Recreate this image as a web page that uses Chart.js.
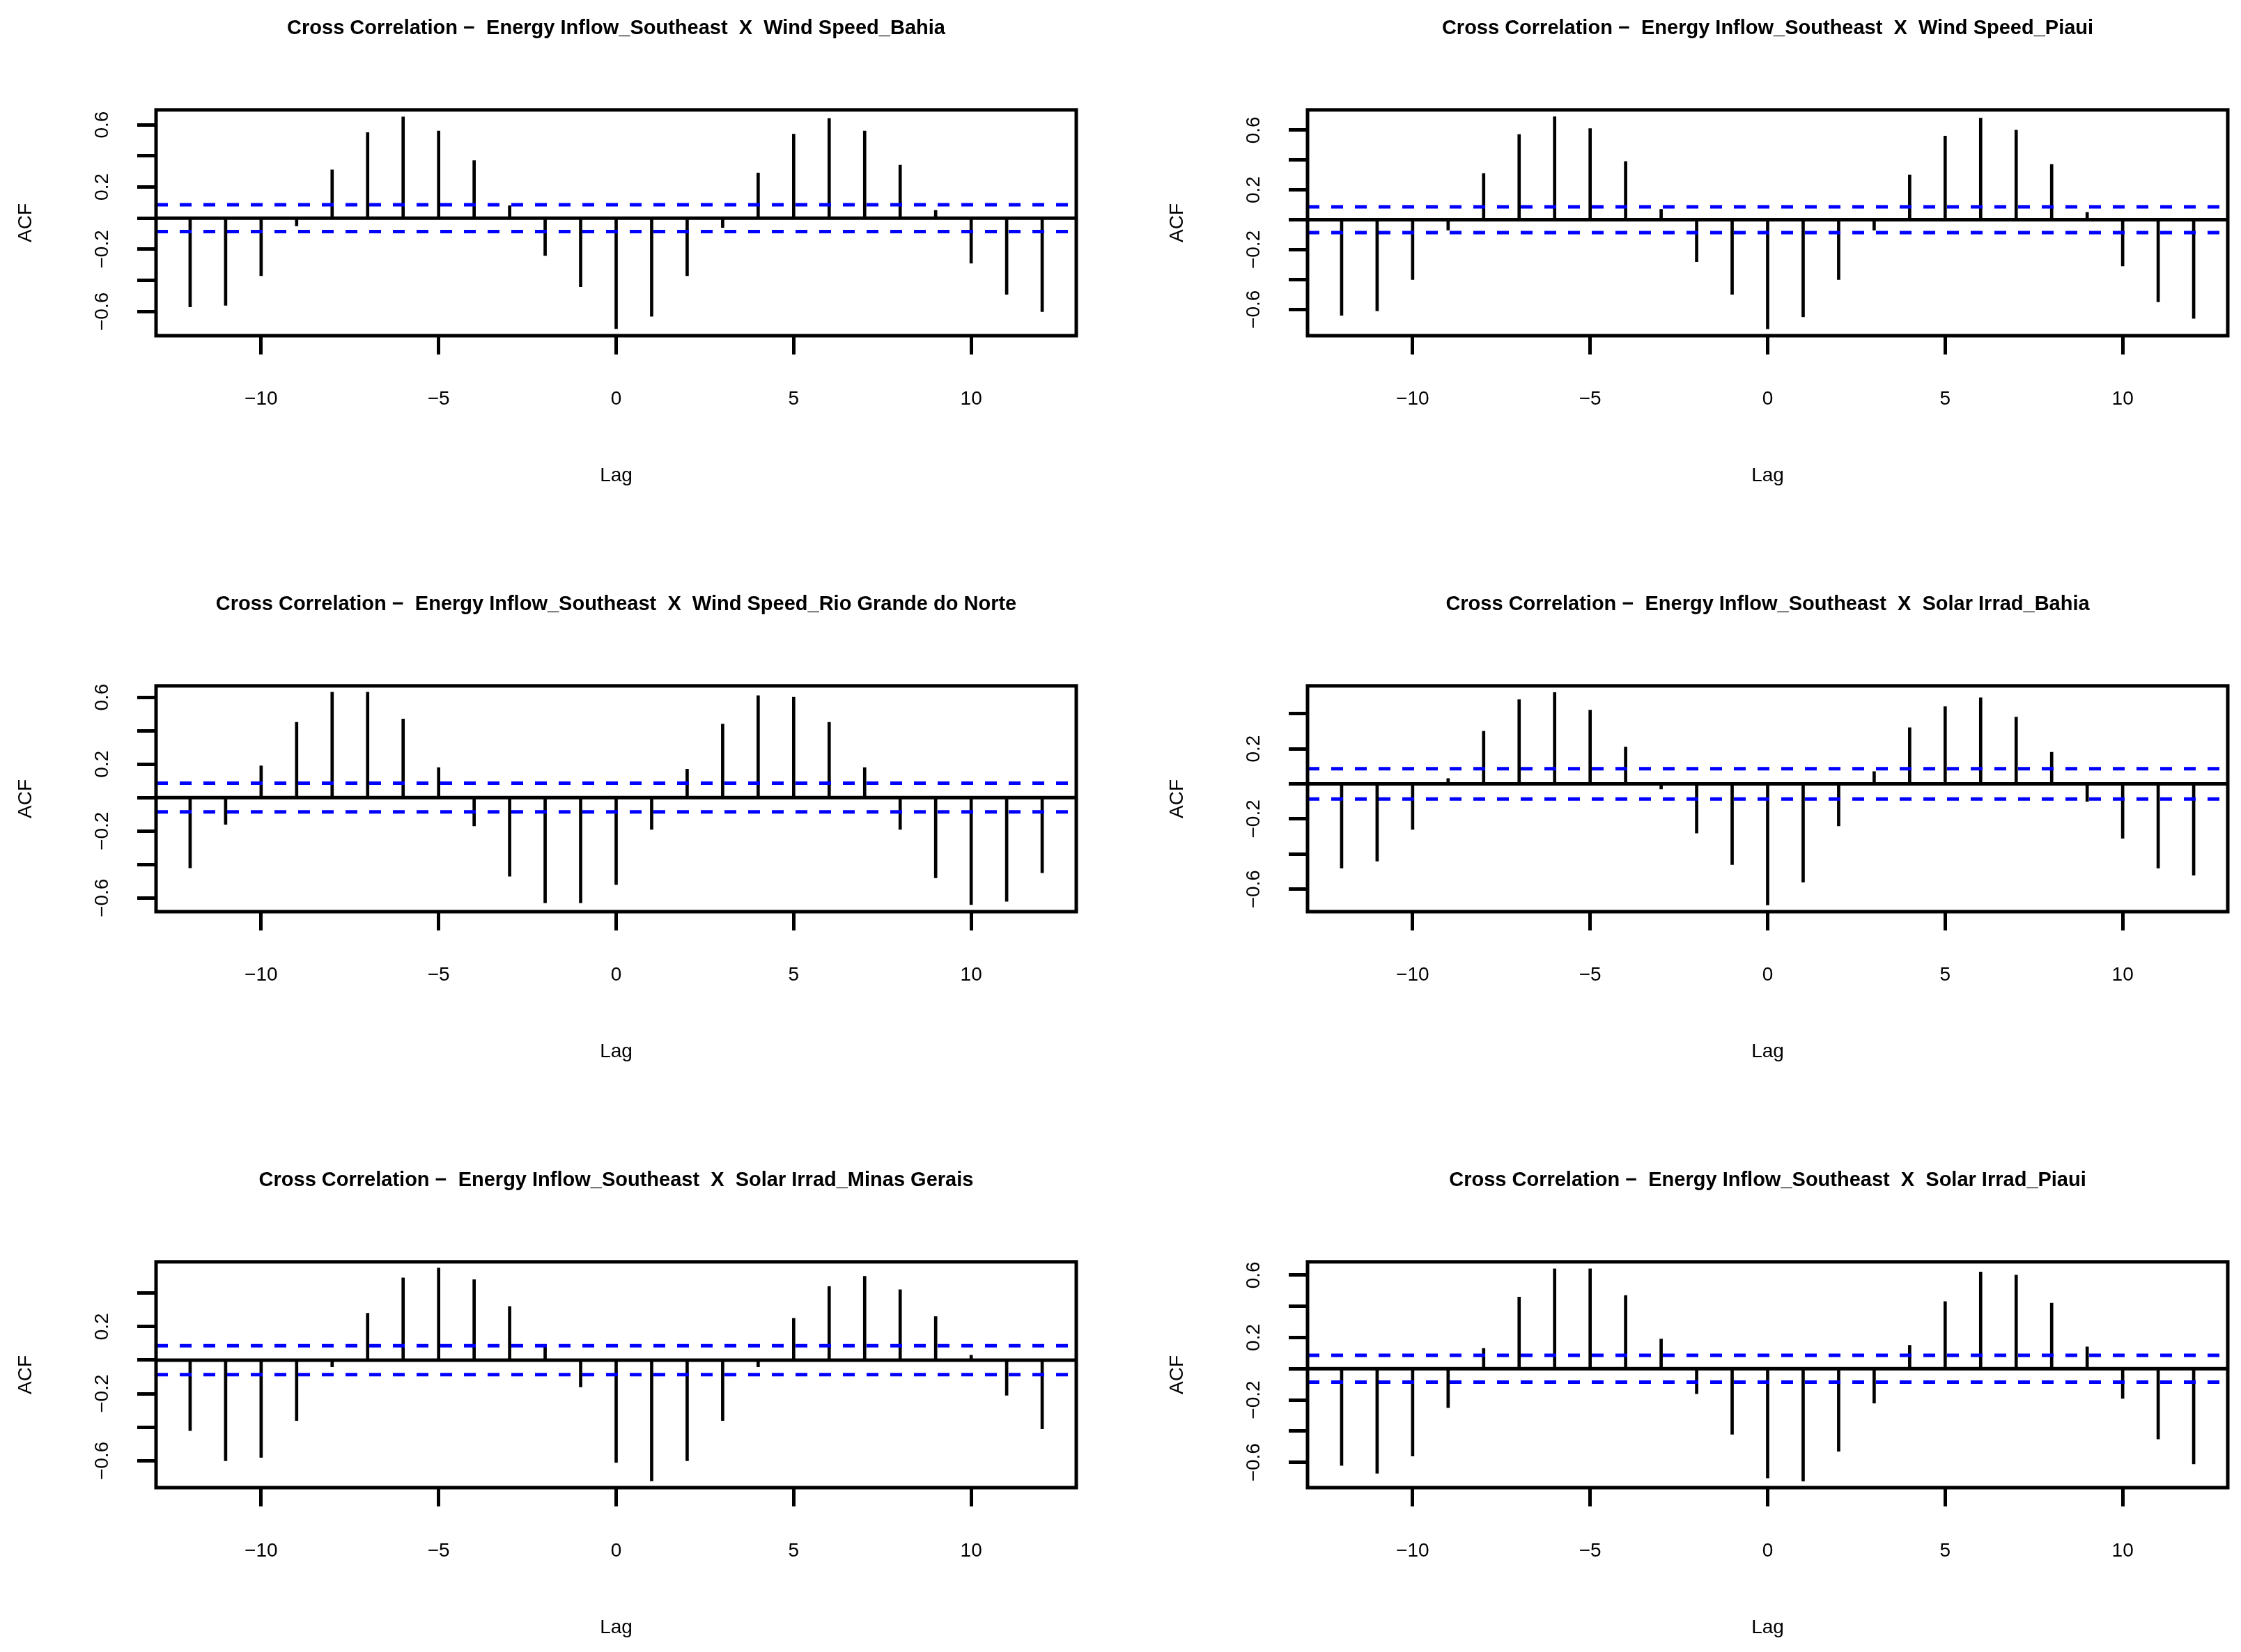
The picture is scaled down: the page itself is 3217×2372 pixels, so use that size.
<!DOCTYPE html>
<html>
<head>
<meta charset="utf-8">
<script src="https://cdn.jsdelivr.net/npm/chart.js@4.4.1/dist/chart.umd.min.js"></script>
<style>
  html, body { margin: 0; padding: 0; background: #fff; overflow: hidden; }
  body { width: 3217px; height: 2372px; position: relative; }
  canvas { position: absolute; }
</style>
</head>
<body>
<script>
// lags of the cross correlation
const lags = [-12,-11,-10,-9,-8,-7,-6,-5,-4,-3,-2,-1,0,1,2,3,4,5,6,7,8,9,10,11,12];

// ccf values
const windBahia  = [-0.57,-0.56,-0.37,-0.05,0.31,0.55,0.65,0.56,0.37,0.08,-0.24,-0.44,-0.71,-0.63,-0.37,-0.06,0.29,0.54,0.64,0.56,0.34,0.05,-0.29,-0.49,-0.60];
const windPiaui  = [-0.64,-0.61,-0.40,-0.07,0.31,0.57,0.69,0.61,0.39,0.07,-0.28,-0.50,-0.73,-0.65,-0.40,-0.07,0.30,0.56,0.68,0.60,0.37,0.05,-0.31,-0.55,-0.66];
const windRGN    = [-0.42,-0.16,0.19,0.45,0.63,0.63,0.47,0.18,-0.17,-0.47,-0.63,-0.63,-0.52,-0.19,0.17,0.44,0.61,0.60,0.45,0.18,-0.19,-0.48,-0.64,-0.62,-0.45];
const solarBahia = [-0.48,-0.44,-0.26,0.03,0.30,0.48,0.52,0.42,0.21,-0.03,-0.28,-0.46,-0.69,-0.56,-0.24,0.07,0.32,0.44,0.49,0.38,0.18,-0.10,-0.31,-0.48,-0.52];
const solarMG    = [-0.42,-0.60,-0.58,-0.36,-0.04,0.28,0.49,0.55,0.48,0.32,0.08,-0.16,-0.61,-0.72,-0.60,-0.36,-0.04,0.25,0.44,0.50,0.42,0.26,0.03,-0.21,-0.41];
const solarPiaui = [-0.62,-0.67,-0.56,-0.25,0.13,0.46,0.64,0.64,0.47,0.19,-0.16,-0.42,-0.70,-0.72,-0.53,-0.22,0.15,0.43,0.62,0.60,0.42,0.14,-0.19,-0.45,-0.61];

const series = [windBahia, windPiaui, windRGN, solarBahia, solarMG, solarPiaui];
const titles = [
  'Cross Correlation \u2212  Energy Inflow_Southeast  X  Wind Speed_Bahia',
  'Cross Correlation \u2212  Energy Inflow_Southeast  X  Wind Speed_Piaui',
  'Cross Correlation \u2212  Energy Inflow_Southeast  X  Wind Speed_Rio Grande do Norte',
  'Cross Correlation \u2212  Energy Inflow_Southeast  X  Solar Irrad_Bahia',
  'Cross Correlation \u2212  Energy Inflow_Southeast  X  Solar Irrad_Minas Gerais',
  'Cross Correlation \u2212  Energy Inflow_Southeast  X  Solar Irrad_Piaui'
];

// confidence bound (blue dashed)
const ciBound = 0.086;

// axis limits and ticks
const xMin = -12.96, xMax = 12.96;
const yMin = [-0.755,-0.776,-0.682,-0.728,-0.760,-0.762];
const yMax = [0.695,0.735,0.668,0.558,0.586,0.685];
const xTicks = [-10,-5,0,5,10];
const yTicks = [-0.6,-0.4,-0.2,0,0.2,0.4,0.6];
const yLabelled = [-0.6,-0.2,0.2,0.6];

const FONT = '"Liberation Sans", Arial, Helvetica, sans-serif';
const colLeft = [224, 1877];
const rowTop = [158, 985, 1812];
const AREA_W = 1321, AREA_H = 324;
const Y_W = 224, TITLE_H = 158, X_H = 230, PAD_R = 30;

const minus = s => String(s).replace('-', '\u2212');

// frame + rotated y labels, as R draws them
const rStyle = {
  id: 'rStyle',
  afterDraw(chart) {
    const c = chart.ctx, a = chart.chartArea, ys = chart.scales.y;
    c.save();
    c.strokeStyle = '#000';
    c.lineWidth = 5;
    c.strokeRect(a.left, a.top, a.right - a.left, a.bottom - a.top);
    c.fillStyle = '#000';
    c.font = '28px ' + FONT;
    c.textAlign = 'center';
    c.textBaseline = 'middle';
    yLabelled.forEach(v => {
      if (v < ys.min || v > ys.max) return;
      c.save();
      c.translate(a.left - 77, ys.getPixelForValue(v));
      c.rotate(-Math.PI / 2);
      c.fillText(minus(v.toFixed(1)), 0, 0);
      c.restore();
    });
    c.restore();
  }
};

series.forEach((vals, i) => {
  const col = i % 2, row = Math.floor(i / 2);
  const cv = document.createElement('canvas');
  const w = Y_W + AREA_W + PAD_R, h = TITLE_H + AREA_H + X_H;
  cv.width = w; cv.height = h;
  cv.style.width = w + 'px'; cv.style.height = h + 'px';
  cv.style.left = (colLeft[col] - Y_W) + 'px';
  cv.style.top = (rowTop[row] - TITLE_H) + 'px';
  document.body.appendChild(cv);

  new Chart(cv.getContext('2d'), {
    type: 'bar',
    data: {
      datasets: [
        { type: 'line', data: [{x: xMin, y: ciBound}, {x: xMax, y: ciBound}],
          borderColor: '#0000ff', borderWidth: 5, borderDash: [17, 17], pointRadius: 0 },
        { type: 'line', data: [{x: xMin, y: -ciBound}, {x: xMax, y: -ciBound}],
          borderColor: '#0000ff', borderWidth: 5, borderDash: [17, 17], pointRadius: 0 },
        { type: 'line', data: [{x: xMin, y: 0}, {x: xMax, y: 0}],
          borderColor: '#000', borderWidth: 5, pointRadius: 0 },
        { type: 'bar', data: lags.map((l, k) => ({x: l, y: vals[k]})),
          backgroundColor: '#000', borderWidth: 0, barThickness: 4 }
      ]
    },
    options: {
      responsive: false,
      devicePixelRatio: 1,
      animation: false,
      layout: { padding: { left: 0, right: PAD_R, top: 0, bottom: 0 } },
      plugins: {
        legend: { display: false },
        tooltip: { enabled: false },
        title: {
          display: true, text: titles[i], fullSize: false, color: '#000',
          font: { family: FONT, size: 29, weight: 'bold' },
          padding: { top: 24, bottom: 99 }
        }
      },
      scales: {
        x: {
          type: 'linear', min: xMin, max: xMax, offset: false,
          afterBuildTicks: s => { s.ticks = xTicks.map(v => ({value: v})); },
          afterFit: s => { s.height = X_H; },
          grid: { drawOnChartArea: false, drawTicks: true, tickLength: 27, tickWidth: 5, tickColor: '#000', offset: false },
          border: { display: false },
          ticks: { autoSkip: false, maxRotation: 0, color: '#000', padding: 47,
                   font: { family: FONT, size: 28 }, callback: v => minus(v) },
          title: { display: true, text: 'Lag', color: '#000', font: { family: FONT, size: 28 },
                   padding: { top: 0, bottom: 12 } }
        },
        y: {
          type: 'linear', min: yMin[i], max: yMax[i],
          afterBuildTicks: s => { s.ticks = yTicks.filter(v => v >= s.min && v <= s.max).map(v => ({value: v})); },
          afterFit: s => { s.width = Y_W; },
          grid: { drawOnChartArea: false, drawTicks: true, tickLength: 27, tickWidth: 5, tickColor: '#000' },
          border: { display: false },
          ticks: { callback: () => '' },
          title: { display: true, text: 'ACF', color: '#000', font: { family: FONT, size: 28 },
                   padding: { top: 20, bottom: 0 } }
        }
      }
    },
    plugins: [rStyle]
  });
});
</script>
</body>
</html>
